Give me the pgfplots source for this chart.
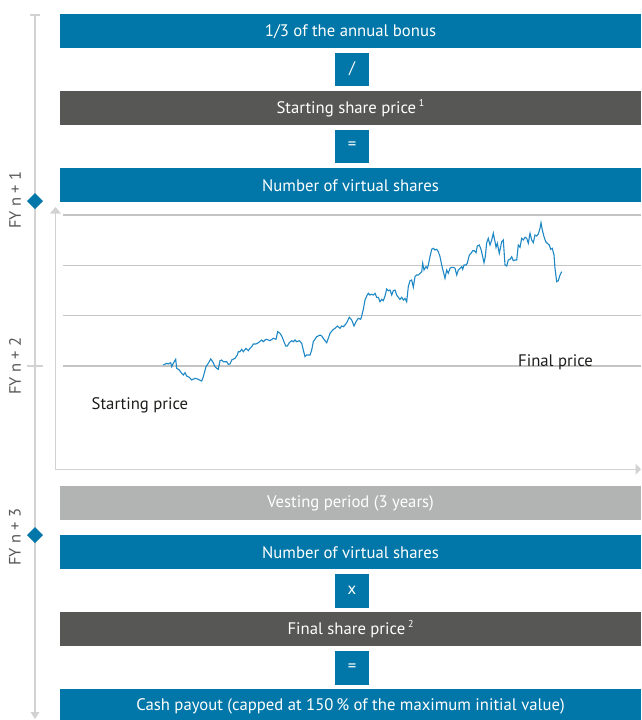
\documentclass[border=0pt]{standalone}
\usepackage{pgfplots}
\pgfplotsset{compat=1.18}
\usepackage{fontspec}
\setmainfont{PT Sans}
\definecolor{mainblue}{HTML}{0077A8}
\definecolor{darkbox}{HTML}{575756}
\definecolor{lightbox}{HTML}{B2B4B3}
\definecolor{tline}{HTML}{D2D2D2}
\definecolor{gridg}{HTML}{C4C4C4}
\definecolor{lineblue}{HTML}{1E88C4}
\definecolor{txt}{HTML}{1D1D1B}
\newcommand{\supr}[1]{\,\raisebox{0.42em}{\fontsize{10}{10}\selectfont #1}}
\begin{document}
\begin{tikzpicture}
\begin{axis}[
  at={(0,0)}, anchor=south west,
  scale only axis, width=641pt, height=720pt,
  xmin=0, xmax=641, ymin=0, ymax=720, y dir=reverse,
  hide axis, clip=false,
]
\path (0,0) rectangle (641,720);
% timeline
\draw[tline, line width=2pt] (35,15) -- (35,712);
\draw[tline, line width=1.5pt] (30,15) -- (40,15);
\fill[tline] (30.5,712) -- (39.5,712) -- (35,719) -- cycle;
\draw[tline, line width=1.2pt] (27,366) -- (43,366);
\fill[mainblue] (35,193) -- (43,201) -- (35,209) -- (27,201) -- cycle;
\fill[mainblue] (35,527) -- (43,535) -- (35,543) -- (27,535) -- cycle;
\tikzset{fytxt/.style={rotate=90, text=darkbox, font=\fontsize{16.5}{18}\selectfont}}
\node[fytxt] at (15,200) {FY n + 1};
\node[fytxt] at (15,366) {FY n + 2};
\node[fytxt] at (15,537) {FY n + 3};
% boxes top
\tikzset{boxtxt/.style={text=white, font=\fontsize{16.7}{19}\selectfont}}
\fill[mainblue] (60,14) rectangle (641,47.5);
\node[boxtxt] at (350.5,31.3) {1/3 of the annual bonus};
\fill[mainblue] (335,52.5) rectangle (369,85.5);
\node[boxtxt] at (352,69) {/};
\fill[darkbox] (60,91) rectangle (641,124.5);
\node[boxtxt] at (350.5,108.3) {Starting share price\supr{1}};
\fill[mainblue] (335,129.5) rectangle (369,162.5);
\node[boxtxt] at (352,146) {=};
\fill[mainblue] (60,168) rectangle (641,202);
\node[boxtxt] at (350.5,185.5) {Number of virtual shares};
% chart frame
\draw[tline, line width=1.5pt] (55.5,213) -- (55.5,469.3) -- (636,469.3);
\fill[tline] (50,213.5) -- (61,213.5) -- (55.5,207) -- cycle;
\fill[tline] (635.5,463.5) -- (635.5,475) -- (641,469.3) -- cycle;
\draw[gridg, line width=1.2pt] (63,215) -- (641,215);
\draw[gridg, line width=1.2pt] (63,265.5) -- (641,265.5);
\draw[gridg, line width=1.2pt] (63,315.7) -- (641,315.7);
\draw[gridg, line width=1.2pt] (63,366) -- (641,366);
\node[anchor=base west, text=txt, font=\fontsize{16.7}{19}\selectfont, inner sep=0pt] at (91.5,409) {Starting price};
\node[anchor=base west, text=txt, font=\fontsize{16.7}{19}\selectfont, inner sep=0pt] at (518,366) {Final price};
\addplot[lineblue, line width=1.1pt, mark=none] coordinates {
(163.3,365)(166.7,363.3)(168.3,364)(170.7,362.7)(171.7,366.7)(173.3,363.3)(175.7,359.3)(176.7,368.3)(179.3,370)(181.7,373.3)(183.3,375)(185,372.7)(186.7,376)(189.3,377.3)(191.7,380)(195,378.3)(198.3,379.3)(201.7,381)(203.3,376.7)(206,366.7)(208.3,363.3)(210.7,359)(212.7,361.7)(215,366.7)(216.7,368.3)(218.3,369.3)(220,360.7)(221.7,360)(223.3,361.7)(226.7,361.7)(228.3,364.3)(230,364)(231.7,360)(235,358.3)(237.3,355)(238.3,351.7)(240,351.7)(241.7,349.3)(243.3,351.7)(246,348.3)(248.3,350.7)(250,348.3)(251.7,346.7)(253.3,344)(256,344)(258.3,342.7)(261.7,340)(263.3,341.7)(265,340)(266.7,339.3)(270,340.7)(273.3,338.3)(276,339.3)(277.7,331.7)(280,333.3)(281.7,336)(283.3,340)(285.7,346)(287.3,346)(289.3,342.7)(291.7,340.7)(293.3,341.7)(295,340)(296.7,341.7)(299.3,340.7)(301.7,343.3)(303.3,350)(305,356.7)(306.7,355)(310,355)(311.7,350)(313.3,341.7)(316.7,336.7)(320,335)(321.7,336)(323.3,338.3)(325,340.7)(326.7,342.7)(328.3,338.3)(330,333.3)(332.7,330)(335,328.3)(337.3,326)
(340,328.3)(341.7,326)(343.3,326.7)(345,325)(346.7,322.7)(349.3,317.3)(351.7,320)(354,326)(356,321.7)(358.3,318.3)(360.7,319.3)(361.7,316)(363.3,309.3)(365,300)(366.7,296)(368.3,293.3)(370,295)(371.7,294.3)(373.3,295)(375,293.3)(376.7,297.3)(378.3,297.3)(380,301.7)(381.7,299.3)(383.3,300.7)(385,296)(386.7,289)(388.3,290.7)(390,290)(391.7,295)(393.3,290.7)(395,290)(396.7,295)(398.3,297.3)(400,299.3)(401.7,297.3)(403.3,300)(405,298.3)(406.7,301.7)(408.3,286.7)(410,280.7)(411.7,280)(413.3,287.3)(415,276.7)(416.7,275)(418.3,275)(420,273.3)(421.7,271.7)(422.7,263.3)(424,270)(426,266.7)(427.3,268.3)(428.3,265)(430,256.7)(431.7,249.3)(433.3,248.3)(435,250)(436.7,249.3)(438.3,251.7)(440,256.7)(441.7,265)(443.3,271.7)(445,278.3)(446.7,270)(448.3,273.3)(450,268.3)(451.7,267.3)(453.3,267.3)(455,268.3)(456.7,275)(458.3,270)(460,268.3)(461.7,266.7)(462.7,269.3)(464,265)(466,265)(467.3,263.3)(469.3,255)(471,253.3)(472.7,250.7)(474.3,250.7)(476,252.7)(477.3,246)(479.3,245)(481,249.3)(482.7,256.7)(484,262.7)(485.3,256.7)(486.7,242.7)(488.3,238.3)(490,245)(491.7,240)(493.3,233.3)(495,241.7)(496,247.3)(497.3,243.3)(499.3,253.3)(501.7,241.7)(503.3,240)(505,265)(506.7,266)(508.3,260)(510,259.3)(511.7,256.7)(513.3,260.7)(515,260)(516.7,260)(518.3,245)(520,247.3)(521.7,238.3)(523.3,240)(525,237.3)(526.7,238.3)(528.3,243.3)(530,233.3)(531.7,240)(533.3,242.7)(535,235)(536.7,236)(538.3,234)(540,228.3)(541,222.7)(542.3,230)(544,236.7)(545.7,241.7)(547.3,243.3)(549.3,245)(550.7,249.3)(552.3,248.3)(554,255)(555,268.3)(556.7,281.7)(558.3,280.7)(560,275)(561.7,271.7)
};
% boxes bottom
\fill[lightbox] (60,486) rectangle (641,520);
\node[boxtxt] at (350.5,503.5) {Vesting period (3 years)};
\fill[mainblue] (60,535) rectangle (641,569);
\node[boxtxt] at (350.5,552.5) {Number of virtual shares};
\fill[mainblue] (335,574) rectangle (369,607.5);
\node[boxtxt] at (352,590.5) {x};
\fill[darkbox] (60,612) rectangle (641,646);
\node[boxtxt] at (350.5,629.5) {Final share price\supr{2}};
\fill[mainblue] (335,651) rectangle (369,684.5);
\node[boxtxt] at (352,667.5) {=};
\fill[mainblue] (60,689) rectangle (641,720);
\node[boxtxt] at (350.5,706.5) {Cash payout (capped at 150\,\% of the maximum initial value)};
\end{axis}
\end{tikzpicture}
\end{document}
